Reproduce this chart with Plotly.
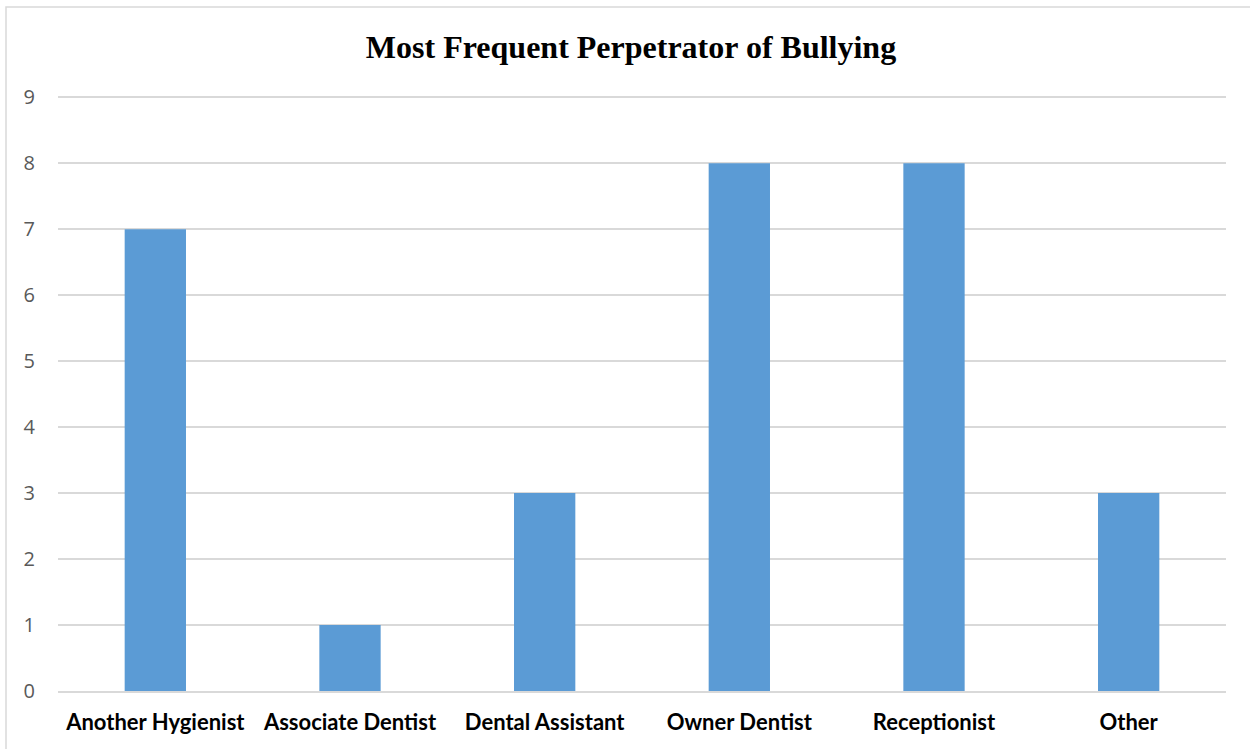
import plotly.graph_objects as go

categories = ["Another Hygienist", "Associate Dentist", "Dental Assistant",
              "Owner Dentist", "Receptionist", "Other"]
counts = [7, 1, 3, 8, 8, 3]
y_ticks = [0, 1, 2, 3, 4, 5, 6, 7, 8, 9]
title_text = "Most Frequent Perpetrator of Bullying"

W, H = 1250, 749
ML, MR, MT, MB = 58, 24, 96, 58
pw = W - ML - MR
ph = H - MT - MB

fig = go.Figure(go.Bar(
    x=categories, y=counts,
    marker=dict(color="#5b9bd5", line=dict(width=0)),
    width=0.315,
))

# outer chart border (partially cropped in reference)
bx0 = (6 - ML) / pw
by1 = 1 + (MT - 7) / ph
fig.add_shape(type="rect", xref="paper", yref="paper",
              x0=bx0, x1=1.2, y0=-0.5, y1=by1,
              line=dict(color="#d9d9d9", width=1.5), fillcolor="rgba(0,0,0,0)",
              layer="below")

fig.update_layout(
    width=W, height=H,
    margin=dict(l=ML, r=MR, t=MT, b=MB, pad=0),
    paper_bgcolor="white", plot_bgcolor="white",
    showlegend=False,
    title=dict(text="<b>" + title_text + "</b>",
               font=dict(family="Liberation Serif", size=32, color="black"),
               x=631 / W, xanchor="center", xref="container",
               y=1 - 47 / H, yanchor="middle", yref="container"),
    xaxis=dict(showgrid=False, showline=True, linecolor="#d9d9d9", linewidth=1.5,
               ticks="", tickfont=dict(family="Lato", size=22, color="black", weight="bold"),
               ticklabelstandoff=11),
    yaxis=dict(range=[0, 9.02], tickvals=y_ticks, showgrid=True, gridcolor="#d9d9d9",
               gridwidth=1.5, zeroline=False, showline=False, ticks="",
               tickfont=dict(family="Open Sans", size=20, color="#595959"),
               ticklabelstandoff=22),
)

fig.write_html("out.html")
